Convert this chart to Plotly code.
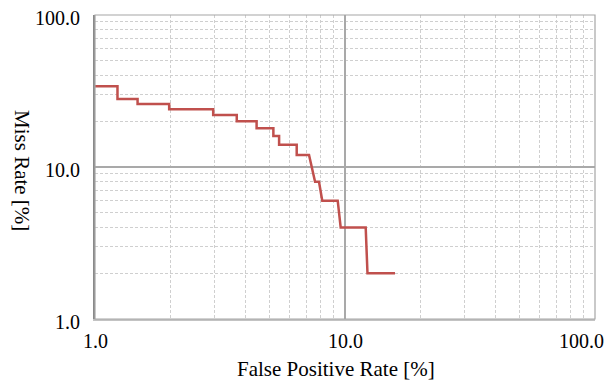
import math
import plotly.graph_objects as go

# Curve vertices (False Positive Rate %, Miss Rate %)
fp_rate = [1.0, 1.23, 1.23, 1.48, 1.48, 1.98, 1.98, 2.97, 2.97, 3.69, 3.69, 4.43, 4.43,
           5.17, 5.17, 5.45, 5.45, 6.41, 6.41, 7.18, 7.59, 7.87, 8.11, 9.35, 9.61,
           12.1, 12.3, 15.85]
miss_rate = [34, 34, 28, 28, 26, 26, 24, 24, 22, 22, 20, 20, 18,
             18, 16, 16, 14, 14, 12, 12, 8, 8, 6, 6, 4,
             4, 2, 2]

major_vals = [1, 10, 100]
tick_labels = ["1.0", "10.0", "100.0"]
minor_vals = [m * d for d in (1, 10) for m in range(2, 10)]

x_title = "False Positive Rate [%]"
y_title = "Miss Rate [%]"

FONT = "Liberation Serif, Times New Roman, serif"
MAJOR_GRID = "#a9a9a9"
MINOR_GRID = "#cfcfcf"

fig = go.Figure()
fig.add_trace(go.Scatter(
    x=fp_rate, y=miss_rate, mode="lines",
    line=dict(color="#C0504D", width=2.5),
    showlegend=False, hoverinfo="skip",
))

common = dict(
    type="log",
    range=[0, 2],
    tickvals=major_vals,
    automargin=False,
    showticklabels=False,
    showgrid=True, gridcolor=MAJOR_GRID, gridwidth=1.5,
    zeroline=False,
    minor=dict(tickvals=minor_vals, showgrid=True, gridcolor=MINOR_GRID,
               griddash="3px,2px", gridwidth=1, ticks=""),
)

fig.update_xaxes(**common, showline=True, linecolor="#c3c3c3", linewidth=2)
fig.update_yaxes(**common, showline=True, linecolor="#8a8a8a", linewidth=1.5)

# frame (top / right)
fig.add_shape(type="rect", xref="paper", yref="paper", x0=0, y0=0, x1=1, y1=1,
              line=dict(color="#a6a6a6", width=1.2), layer="above")

tick_font = dict(family=FONT, size=20, color="black")
annotations = []
shifts = [0, 0, -14]
for v, t, s in zip(major_vals, tick_labels, shifts):
    annotations.append(dict(
        x=math.log10(v), xref="x", y=0, yref="paper", yanchor="top",
        xanchor="center", yshift=-9, xshift=s, text=t, showarrow=False,
        font=tick_font,
    ))
    annotations.append(dict(
        x=0, xref="paper", y=math.log10(v), yref="y", yanchor="middle",
        xanchor="right", xshift=-13, yshift=-3, text=t, showarrow=False,
        font=tick_font,
    ))
annotations.append(dict(
    x=0.482, xref="paper", y=0, yref="paper", yanchor="top", yshift=-36,
    text=x_title, showarrow=False, font=dict(family=FONT, size=21, color="black"),
))
annotations.append(dict(
    x=0, xref="paper", y=0.49, yref="paper", xanchor="center", xshift=-73,
    text=y_title, textangle=90, showarrow=False,
    font=dict(family=FONT, size=21, color="black"),
))

# page body adds an 8px offset; margins compensate so the plot area lands at 95..595 x 15..319
fig.update_layout(
    width=616, height=381,
    margin=dict(l=87, r=29, t=7, b=70),
    paper_bgcolor="white", plot_bgcolor="white",
    annotations=annotations,
)

fig.write_html("out.html")
